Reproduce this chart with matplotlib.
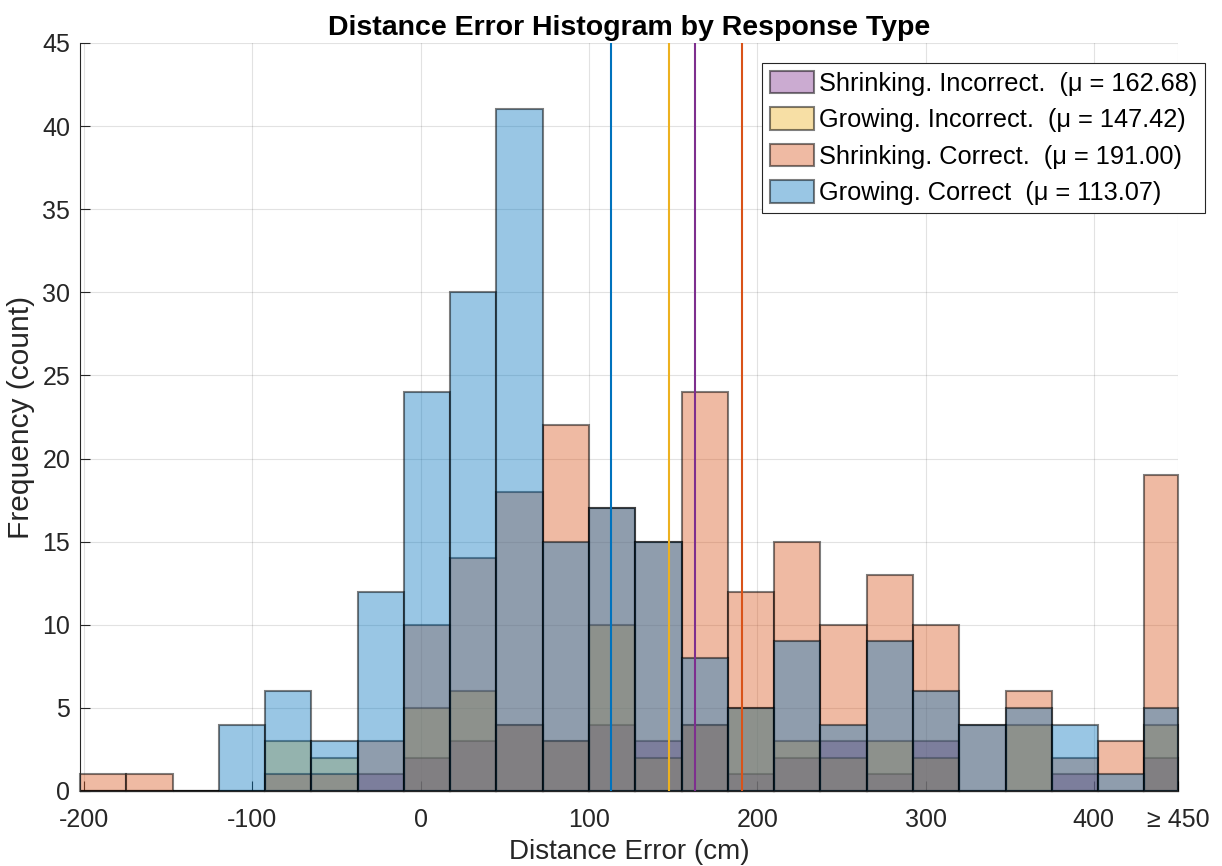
import matplotlib
matplotlib.use('Agg')
import matplotlib.pyplot as plt
import numpy as np
from matplotlib.patches import Patch

plt.rcParams['font.family'] = ['Liberation Sans', 'DejaVu Sans']
plt.rcParams['axes.unicode_minus'] = False

# ---------------- data ----------------
bin_edges = [-202.5, -175.0, -147.5, -120.0, -92.5, -65.0, -37.5, -10.0, 17.5, 45.0,
             72.5, 100.0, 127.5, 155.0, 182.5, 210.0, 237.5, 265.0, 292.5, 320.0,
             347.5, 375.0, 402.5, 430.0, 450.0]

shrinking_incorrect = [0, 0, 0, 0, 0, 0, 1, 2, 3, 4, 3, 4, 3, 4, 1, 2, 3, 1, 3, 0, 0, 1, 0, 2]
growing_incorrect   = [0, 0, 0, 0, 3, 2, 0, 5, 6, 4, 3, 10, 2, 4, 5, 3, 2, 3, 2, 0, 4, 0, 0, 4]
shrinking_correct   = [1, 1, 0, 0, 1, 1, 3, 10, 14, 18, 22, 17, 15, 24, 12, 15, 10, 13, 10, 4, 6, 2, 3, 19]
growing_correct     = [0, 0, 0, 4, 6, 3, 12, 24, 30, 41, 15, 17, 15, 8, 5, 9, 4, 9, 6, 4, 5, 4, 1, 5]

series_names = ["Shrinking. Incorrect.", "Growing. Incorrect.", "Shrinking. Correct.", "Growing. Correct"]
series_means = [162.68, 147.42, 191.00, 113.07]
series_counts = [shrinking_incorrect, growing_incorrect, shrinking_correct, growing_correct]

x_ticks = [-200, -100, 0, 100, 200, 300, 400, 450]
x_tick_labels = ['-200', '-100', '0', '100', '200', '300', '400', '\u2265 450']
y_ticks = [0, 5, 10, 15, 20, 25, 30, 35, 40, 45]

# ---------------- style ----------------
colors = [(0.4940, 0.1840, 0.5560),
          (0.9290, 0.6940, 0.1250),
          (0.8500, 0.3250, 0.0980),
          (0.0000, 0.4470, 0.7410)]
face_alpha = 0.4
edge_rgba = (0, 0, 0, 0.5)
axis_color = (0.15, 0.15, 0.15)

fig = plt.figure(figsize=(12.22, 8.66), dpi=100)
ax = fig.add_axes([80 / 1222, 1 - 791 / 866, (1178 - 80) / 1222, (791 - 43) / 866])

edges = np.array(bin_edges)
lefts = edges[:-1]
widths = np.diff(edges)

handles = []
for name, mu, cnt, col in zip(series_names, series_means, series_counts, colors):
    ax.bar(lefts, cnt, width=widths, align='edge',
           facecolor=(*col, face_alpha), edgecolor=edge_rgba, linewidth=1.5,
           zorder=2, clip_on=False)
    handles.append(Patch(facecolor=(*col, face_alpha), edgecolor=edge_rgba, linewidth=1.5,
                         label=f"{name}  (\u03bc = {mu:.2f})"))

for mu, col in zip(series_means, colors):
    ax.axvline(mu, color=col, linewidth=1.5, zorder=3)

ax.set_xlim(bin_edges[0], 450)
ax.set_ylim(0, 45)
ax.set_xticks(x_ticks)
ax.set_xticklabels(x_tick_labels)
ax.set_yticks(y_ticks)

ax.tick_params(axis='both', direction='in', length=7, width=0.8, labelsize=18,
               colors=axis_color)
ax.tick_params(axis='x', pad=12)
ax.tick_params(axis='y', pad=7)
ax.grid(True, color=(0.15, 0.15, 0.15), alpha=0.13, linewidth=0.8)
ax.set_axisbelow(True)

for side in ['top', 'right']:
    ax.spines[side].set_visible(False)
for side in ['left', 'bottom']:
    ax.spines[side].set_color(axis_color)
    ax.spines[side].set_linewidth(0.8)

ax.set_xlabel('Distance Error (cm)', fontsize=20, color=axis_color, labelpad=5)
ax.set_ylabel('Frequency (count)', fontsize=21.5, color=axis_color, labelpad=5)
ax.set_title('Distance Error Histogram by Response Type', fontsize=20.5,
             fontweight='bold', pad=6)

leg = fig.legend(handles=handles, loc='upper left',
                 bbox_to_anchor=(762 / 1222, 1 - 63 / 866), borderaxespad=0,
                 fontsize=18.3, frameon=True, fancybox=False, framealpha=1,
                 edgecolor=(0.15, 0.15, 0.15), handlelength=1.75, handleheight=1.0,
                 handletextpad=0.2, labelspacing=0.45, borderpad=0.3)
leg.get_frame().set_linewidth(0.8)

fig.savefig('out.png', dpi=100)
